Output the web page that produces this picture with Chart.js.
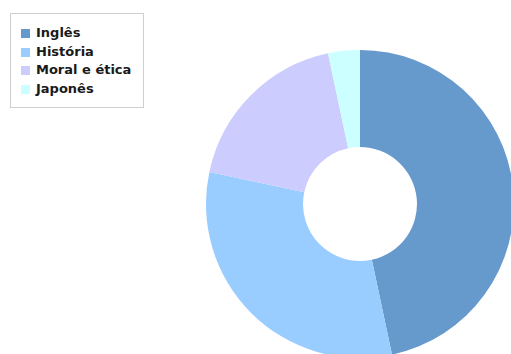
<!DOCTYPE html>
<html>
<head>
<meta charset="utf-8">
<script src="https://cdn.jsdelivr.net/npm/chart.js@4/dist/chart.umd.min.js"></script>
<style>
  html, body { margin: 0; padding: 0; width: 511px; height: 354px; overflow: hidden; background: #fff; }
  #legenda {
    position: absolute; left: 10px; top: 13px; width: 134px; height: 95px;
    border: 1px solid #cfcfcf; box-sizing: border-box;
    font: bold 13px "DejaVu Sans", sans-serif; color: #1a1a1a;
  }
  .item { position: absolute; left: 10px; height: 18px; line-height: 18px; white-space: nowrap; }
  .caixa { position: absolute; left: 0; top: 5px; width: 9px; height: 9px; }
  .texto { position: absolute; left: 15px; top: 0; }
  #grafico { position: absolute; left: 206px; top: 50px; }
</style>
</head>
<body>
<div id="legenda"></div>
<canvas id="grafico" width="308" height="308"></canvas>
<script>
const disciplinas = ["Inglês", "História", "Moral e ética", "Japonês"];
const alunos = [28, 19, 11, 2];
const cores = ['#6699cc', '#99ccff', '#ccccff', '#ccffff'];

// legenda com moldura, montada a partir dos mesmos arrays
const legenda = document.getElementById('legenda');
disciplinas.forEach((nome, i) => {
    const item = document.createElement('div');
    item.className = 'item';
    item.style.top = (10 + i * 18.7) + 'px';
    item.innerHTML = '<span class="caixa" style="background:' + cores[i] + '"></span><span class="texto"></span>';
    item.querySelector('.texto').textContent = nome;
    legenda.appendChild(item);
});

const ctx = document.getElementById('grafico').getContext('2d');

const graficoRosca = new Chart(ctx, {
    type: 'doughnut',
    data: {
        labels: disciplinas,
        datasets: [{
            data: alunos,
            backgroundColor: cores,
            borderWidth: 0
        }]
    },
    options: {
        responsive: false,
        animation: false,
        cutout: '37%',
        layout: { padding: 0 },
        plugins: {
            legend: { display: false },
            tooltip: { enabled: false }
        }
    }
});
</script>
</body>
</html>
